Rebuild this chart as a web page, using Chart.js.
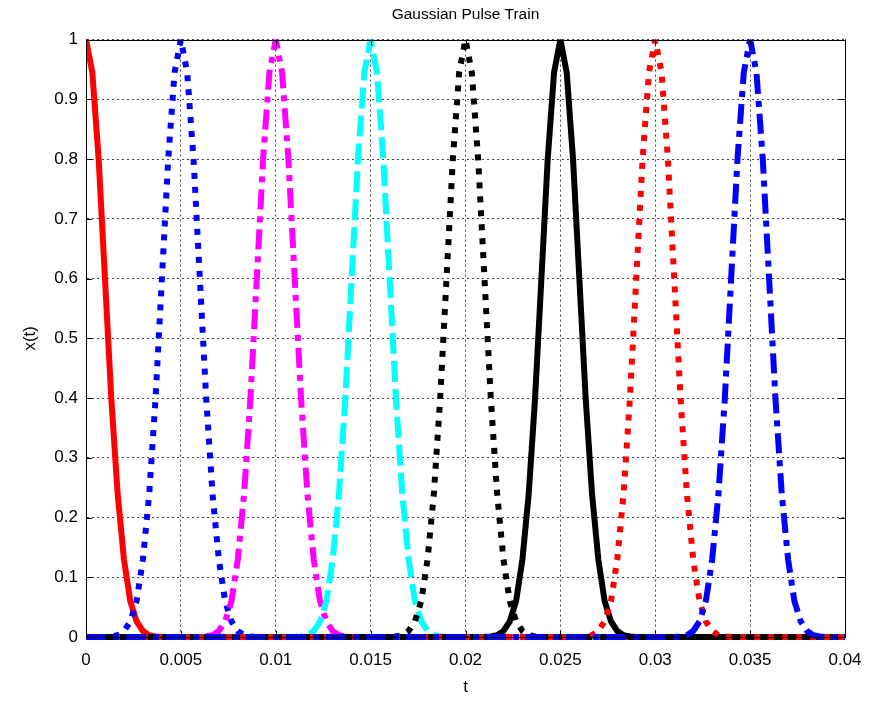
<!DOCTYPE html>
<html><head><meta charset="utf-8">
<script src="https://cdn.jsdelivr.net/npm/chart.js@4/dist/chart.umd.min.js"></script>
<style>html,body{margin:0;padding:0;background:#fff}#wrap{width:873px;height:704px;position:relative}</style>
</head><body><div id="wrap"><canvas id="c"></canvas></div>
<script>
// sample times (s)
const t = [
0,0.000333,0.000667,0.001,0.001333,0.001667,0.002,0.002333,0.002667,0.003,0.003333,0.003667,0.004,0.004333,0.004667,
0.005,0.005333,0.005667,0.006,0.006333,0.006667,0.007,0.007333,0.007667,0.008,0.008333,0.008667,0.009,0.009333,0.009667,
0.01,0.010333,0.010667,0.011,0.011333,0.011667,0.012,0.012333,0.012667,0.013,0.013333,0.013667,0.014,0.014333,0.014667,
0.015,0.015333,0.015667,0.016,0.016333,0.016667,0.017,0.017333,0.017667,0.018,0.018333,0.018667,0.019,0.019333,0.019667,
0.02,0.020333,0.020667,0.021,0.021333,0.021667,0.022,0.022333,0.022667,0.023,0.023333,0.023667,0.024,0.024333,0.024667,
0.025,0.025333,0.025667,0.026,0.026333,0.026667,0.027,0.027333,0.027667,0.028,0.028333,0.028667,0.029,0.029333,0.029667,
0.03,0.030333,0.030667,0.031,0.031333,0.031667,0.032,0.032333,0.032667,0.033,0.033333,0.033667,0.034,0.034333,0.034667,
0.035,0.035333,0.035667,0.036,0.036333,0.036667,0.037,0.037333,0.037667,0.038,0.038333,0.038667,0.039,0.039333,0.039667,
0.04];

// pulse 1 (t0 = 0)
const x0 = [
1,0.945,0.8,0.6,0.4,0.24,0.13,0.06,0.026,0.01,0.003,0.001,0,0,0,
0,0,0,0,0,0,0,0,0,0,0,0,0,0,0,
0,0,0,0,0,0,0,0,0,0,0,0,0,0,0,
0,0,0,0,0,0,0,0,0,0,0,0,0,0,0,
0,0,0,0,0,0,0,0,0,0,0,0,0,0,0,
0,0,0,0,0,0,0,0,0,0,0,0,0,0,0,
0,0,0,0,0,0,0,0,0,0,0,0,0,0,0,
0,0,0,0,0,0,0,0,0,0,0,0,0,0,0,
0];
// pulse 2 (t0 = 0.005)
const x1 = [
0,0,0,0,0.001,0.003,0.01,0.026,0.06,0.13,0.24,0.4,0.6,0.8,0.945,
1,0.945,0.8,0.6,0.4,0.24,0.13,0.06,0.026,0.01,0.003,0.001,0,0,0,
0,0,0,0,0,0,0,0,0,0,0,0,0,0,0,
0,0,0,0,0,0,0,0,0,0,0,0,0,0,0,
0,0,0,0,0,0,0,0,0,0,0,0,0,0,0,
0,0,0,0,0,0,0,0,0,0,0,0,0,0,0,
0,0,0,0,0,0,0,0,0,0,0,0,0,0,0,
0,0,0,0,0,0,0,0,0,0,0,0,0,0,0,
0];
// pulse 3 (t0 = 0.01)
const x2 = [
0,0,0,0,0,0,0,0,0,0,0,0,0,0,0,
0,0,0,0,0.001,0.003,0.01,0.026,0.06,0.13,0.24,0.4,0.6,0.8,0.945,
1,0.945,0.8,0.6,0.4,0.24,0.13,0.06,0.026,0.01,0.003,0.001,0,0,0,
0,0,0,0,0,0,0,0,0,0,0,0,0,0,0,
0,0,0,0,0,0,0,0,0,0,0,0,0,0,0,
0,0,0,0,0,0,0,0,0,0,0,0,0,0,0,
0,0,0,0,0,0,0,0,0,0,0,0,0,0,0,
0,0,0,0,0,0,0,0,0,0,0,0,0,0,0,
0];
// pulse 4 (t0 = 0.015)
const x3 = [
0,0,0,0,0,0,0,0,0,0,0,0,0,0,0,
0,0,0,0,0,0,0,0,0,0,0,0,0,0,0,
0,0,0,0,0.001,0.003,0.01,0.026,0.06,0.13,0.24,0.4,0.6,0.8,0.945,
1,0.945,0.8,0.6,0.4,0.24,0.13,0.06,0.026,0.01,0.003,0.001,0,0,0,
0,0,0,0,0,0,0,0,0,0,0,0,0,0,0,
0,0,0,0,0,0,0,0,0,0,0,0,0,0,0,
0,0,0,0,0,0,0,0,0,0,0,0,0,0,0,
0,0,0,0,0,0,0,0,0,0,0,0,0,0,0,
0];
// pulse 5 (t0 = 0.02)
const x4 = [
0,0,0,0,0,0,0,0,0,0,0,0,0,0,0,
0,0,0,0,0,0,0,0,0,0,0,0,0,0,0,
0,0,0,0,0,0,0,0,0,0,0,0,0,0,0,
0,0,0,0,0.001,0.003,0.01,0.026,0.06,0.13,0.24,0.4,0.6,0.8,0.945,
1,0.945,0.8,0.6,0.4,0.24,0.13,0.06,0.026,0.01,0.003,0.001,0,0,0,
0,0,0,0,0,0,0,0,0,0,0,0,0,0,0,
0,0,0,0,0,0,0,0,0,0,0,0,0,0,0,
0,0,0,0,0,0,0,0,0,0,0,0,0,0,0,
0];
// pulse 6 (t0 = 0.025)
const x5 = [
0,0,0,0,0,0,0,0,0,0,0,0,0,0,0,
0,0,0,0,0,0,0,0,0,0,0,0,0,0,0,
0,0,0,0,0,0,0,0,0,0,0,0,0,0,0,
0,0,0,0,0,0,0,0,0,0,0,0,0,0,0,
0,0,0,0,0.001,0.003,0.01,0.026,0.06,0.13,0.24,0.4,0.6,0.8,0.945,
1,0.945,0.8,0.6,0.4,0.24,0.13,0.06,0.026,0.01,0.003,0.001,0,0,0,
0,0,0,0,0,0,0,0,0,0,0,0,0,0,0,
0,0,0,0,0,0,0,0,0,0,0,0,0,0,0,
0];
// pulse 7 (t0 = 0.03)
const x6 = [
0,0,0,0,0,0,0,0,0,0,0,0,0,0,0,
0,0,0,0,0,0,0,0,0,0,0,0,0,0,0,
0,0,0,0,0,0,0,0,0,0,0,0,0,0,0,
0,0,0,0,0,0,0,0,0,0,0,0,0,0,0,
0,0,0,0,0,0,0,0,0,0,0,0,0,0,0,
0,0,0,0,0.001,0.003,0.01,0.026,0.06,0.13,0.24,0.4,0.6,0.8,0.945,
1,0.945,0.8,0.6,0.4,0.24,0.13,0.06,0.026,0.01,0.003,0.001,0,0,0,
0,0,0,0,0,0,0,0,0,0,0,0,0,0,0,
0];
// pulse 8 (t0 = 0.035)
const x7 = [
0,0,0,0,0,0,0,0,0,0,0,0,0,0,0,
0,0,0,0,0,0,0,0,0,0,0,0,0,0,0,
0,0,0,0,0,0,0,0,0,0,0,0,0,0,0,
0,0,0,0,0,0,0,0,0,0,0,0,0,0,0,
0,0,0,0,0,0,0,0,0,0,0,0,0,0,0,
0,0,0,0,0,0,0,0,0,0,0,0,0,0,0,
0,0,0,0,0.001,0.003,0.01,0.026,0.06,0.13,0.24,0.4,0.6,0.8,0.945,
1,0.945,0.8,0.6,0.4,0.24,0.13,0.06,0.026,0.01,0.003,0.001,0,0,0,
0];

const xTickLabels = ['0','0.005','0.01','0.015','0.02','0.025','0.03','0.035','0.04'];
const yTickLabels = ['0','0.1','0.2','0.3','0.4','0.5','0.6','0.7','0.8','0.9','1'];

const series = [x0, x1, x2, x3, x4, x5, x6, x7];
const styles = [
  {color:'#ff0000', dash:[]},
  {color:'#0000ff', dash:[6,8]},
  {color:'#ff00ff', dash:[20,7,6,7]},
  {color:'#00ffff', dash:[21,7]},
  {color:'#000000', dash:[6,8]},
  {color:'#000000', dash:[]},
  {color:'#ff0000', dash:[6,8]},
  {color:'#0000ff', dash:[20,7,6,7]}
];

const FONT = 'Liberation Sans, Arial, Helvetica, sans-serif';

const datasets = series.map((s, i) => ({
  data: t.map((tv, j) => ({x: tv, y: s[j]})),
  borderColor: styles[i].color,
  backgroundColor: styles[i].color,
  borderDash: styles[i].dash,
  borderWidth: 6,
  borderCapStyle: 'butt',
  borderJoinStyle: 'miter',
  pointRadius: 0,
  pointHoverRadius: 0,
  fill: false,
  tension: 0,
  order: 8 - i,
  clip: {left: 0, top: 0, right: 0, bottom: 5}
}));

const boxPlugin = {
  id: 'box',
  afterDraw(chart) {
    const {ctx, chartArea: a, scales} = chart;
    ctx.save();
    ctx.strokeStyle = '#000';
    ctx.lineWidth = 1;
    ctx.setLineDash([]);
    ctx.beginPath();
    const tl = 6;
    scales.x.ticks.forEach(tk => {
      const px = Math.round(scales.x.getPixelForValue(tk.value)) + 0.5;
      ctx.moveTo(px, a.bottom); ctx.lineTo(px, a.bottom - tl);
      ctx.moveTo(px, a.top); ctx.lineTo(px, a.top + tl);
    });
    scales.y.ticks.forEach(tk => {
      const py = Math.round(scales.y.getPixelForValue(tk.value)) + 0.5;
      ctx.moveTo(a.left, py); ctx.lineTo(a.left + tl, py);
      ctx.moveTo(a.right, py); ctx.lineTo(a.right - tl, py);
    });
    ctx.stroke();
    ctx.strokeRect(Math.round(a.left) + 0.5, Math.round(a.top) + 0.5, Math.round(a.right - a.left), Math.round(a.bottom - a.top));
    ctx.restore();
  }
};

new Chart(document.getElementById('c'), {
  type: 'line',
  data: {datasets},
  plugins: [boxPlugin],
  options: {
    responsive: true,
    maintainAspectRatio: false,
    animation: false,
    events: [],
    layout: {padding: {left: 0, right: 28, top: 0, bottom: 0}},
    plugins: {
      legend: {display: false},
      tooltip: {enabled: false},
      title: {
        display: true,
        text: 'Gaussian Pulse Train',
        fullSize: false,
        color: '#000',
        font: {family: FONT, size: 15.5, weight: 'normal'},
        padding: {top: 5, bottom: 16}
      }
    },
    scales: {
      x: {
        type: 'linear',
        min: 0, max: 0.04,
        afterFit(s) { s.height = 67; s.paddingLeft = 0; s.paddingRight = 0; },
        ticks: {
          stepSize: 0.005,
          autoSkip: false,
          maxRotation: 0,
          color: '#000',
          padding: 13,
          font: {family: FONT, size: 17},
          callback: (v, i) => xTickLabels[i]
        },
        grid: {color: '#444', lineWidth: 1, drawTicks: false},
        border: {display: true, color: '#000', width: 1, dash: [2, 3]},
        title: {display: true, text: 't', color: '#000', font: {family: FONT, size: 17}, padding: {top: 0, bottom: 6}}
      },
      y: {
        type: 'linear',
        min: 0, max: 1,
        afterFit(s) { s.width = 86; s.paddingTop = 0; s.paddingBottom = 0; },
        ticks: {
          stepSize: 0.1,
          autoSkip: false,
          color: '#000',
          padding: 8,
          font: {family: FONT, size: 17},
          callback: (v, i) => yTickLabels[i]
        },
        grid: {color: '#444', lineWidth: 1, drawTicks: false},
        border: {display: true, color: '#000', width: 1, dash: [2, 3]},
        title: {display: true, text: 'x(t)', color: '#000', font: {family: FONT, size: 17}, padding: {top: 20, bottom: 0}}
      }
    }
  }
});
</script>
</body></html>
